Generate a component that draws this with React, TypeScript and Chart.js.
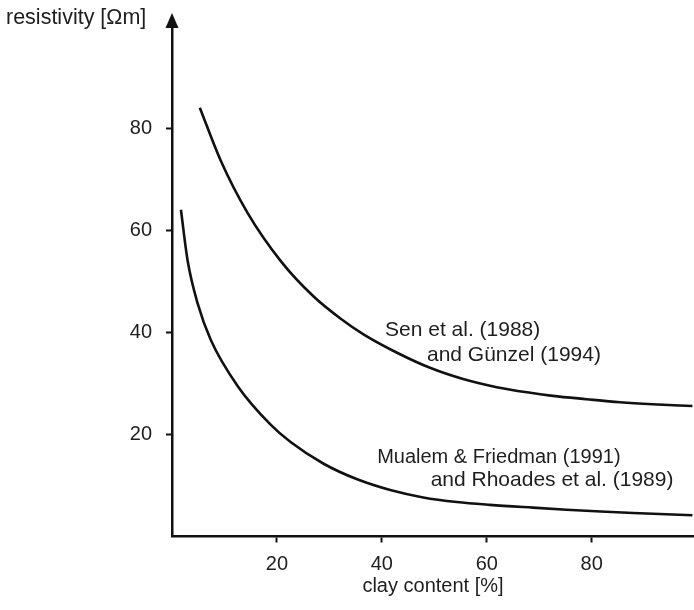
import React, { useEffect, useRef } from 'react';
import { Chart, registerables } from 'chart.js';

Chart.register(...registerables);

// Sen et al. (1988) and Günzel (1994)
const senX = [5.3, 9.3, 14.4, 20.7, 27.0, 32.1, 36.5, 42.9, 49.3, 55.5, 61.9, 68.3, 72.6, 79.0, 85.4, 91.6, 99.2];
const senY = [84.0, 73.6, 63.4, 54.0, 47.0, 42.7, 39.6, 36.0, 33.0, 30.85, 29.25, 28.15, 27.55, 26.9, 26.3, 25.9, 25.55];

// Mualem & Friedman (1991) and Rhoades et al. (1989)
const mualemX = [1.7, 3.0, 4.9, 7.4, 12.5, 18.8, 22.6, 28.9, 35.3, 41.6, 47.9, 54.3, 60.6, 68.8, 75.2, 81.7, 87.9, 99.2];
const mualemY = [64.0, 53.9, 45.6, 38.5, 29.5, 21.9, 18.5, 14.25, 11.2, 9.1, 7.65, 6.75, 6.2, 5.65, 5.25, 4.9, 4.6, 4.15];

const xTicks = [20, 40, 60, 80];
const yTicks = [20, 40, 60, 80];

const xTitle = 'clay content [%]';
const yTitle = 'resistivity [Ωm]';

const noteText = ['Sen et al. (1988)', 'and Günzel (1994)', 'Mualem & Friedman (1991)', 'and Rhoades et al. (1989)'];
const noteX = [40.6, 48.6, 39.1, 49.3];
const noteY = [40.4, 35.6, 15.4, 11.0];
const noteSize = [21, 21, 20, 21];

const FONT = '"Liberation Sans", Arial, Helvetica, sans-serif';
const TEXT = '#1e1e1e';
const INK = '#111';

const overlay = {
  id: 'overlay',
  afterDraw(chart: any) {
    const { ctx, scales, chartArea } = chart;
    const xs = scales.x;
    const ys = scales.y;
    ctx.save();
    ctx.fillStyle = TEXT;
    ctx.textBaseline = 'middle';
    ctx.textAlign = 'left';
    noteText.forEach((t, i) => {
      ctx.font = `${noteSize[i]}px ${FONT}`;
      ctx.fillText(t, xs.getPixelForValue(noteX[i]), ys.getPixelForValue(noteY[i]));
    });
    ctx.font = `21.5px ${FONT}`;
    ctx.fillText(yTitle, 6, 18);
    const ax = chartArea.left;
    ctx.fillStyle = INK;
    ctx.beginPath();
    ctx.moveTo(ax, 13);
    ctx.lineTo(ax - 6.5, 28);
    ctx.lineTo(ax + 6.5, 28);
    ctx.closePath();
    ctx.fill();
    ctx.restore();
  },
};

export default function App() {
  const ref = useRef<HTMLCanvasElement | null>(null);

  useEffect(() => {
    if (!ref.current) return;
    const chart = new Chart(ref.current, {
      type: 'line',
      data: {
        datasets: [
          {
            label: 'Sen et al. (1988) and Günzel (1994)',
            data: senX.map((x, i) => ({ x, y: senY[i] })),
            borderColor: INK,
            borderWidth: 2.6,
            pointRadius: 0,
            fill: false,
            cubicInterpolationMode: 'monotone',
          },
          {
            label: 'Mualem & Friedman (1991) and Rhoades et al. (1989)',
            data: mualemX.map((x, i) => ({ x, y: mualemY[i] })),
            borderColor: INK,
            borderWidth: 2.6,
            pointRadius: 0,
            fill: false,
            cubicInterpolationMode: 'monotone',
          },
        ],
      },
      options: {
        animation: false,
        responsive: false,
        layout: { padding: { top: 17, left: 0, right: 0, bottom: 0 } },
        plugins: { legend: { display: false }, tooltip: { enabled: false } },
        scales: {
          x: {
            type: 'linear',
            min: 0,
            max: 99.5,
            afterBuildTicks: (s: any) => {
              s.ticks = xTicks.map((v) => ({ value: v }));
            },
            afterFit: (s: any) => {
              s.height = 73.5;
            },
            grid: { display: true, drawOnChartArea: false, drawTicks: true, tickLength: 6, tickWidth: 2, tickColor: INK },
            border: { display: true, color: INK, width: 2.5 },
            ticks: { color: TEXT, font: { size: 20, family: FONT }, padding: 10, maxRotation: 0, autoSkip: false },
            title: { display: true, text: xTitle, color: TEXT, font: { size: 20, family: FONT }, padding: { top: 0, bottom: 12 } },
          },
          y: {
            type: 'linear',
            min: 0,
            max: 100,
            afterBuildTicks: (s: any) => {
              s.ticks = yTicks.map((v) => ({ value: v }));
            },
            afterFit: (s: any) => {
              s.width = 172;
            },
            grid: { display: true, drawOnChartArea: false, drawTicks: true, tickLength: 6, tickWidth: 2, tickColor: INK },
            border: { display: true, color: INK, width: 2.5 },
            ticks: { color: TEXT, font: { size: 20, family: FONT }, padding: 14, autoSkip: false },
          },
        },
      },
      plugins: [overlay],
    } as any);
    return () => chart.destroy();
  }, []);

  return (
    <div style={{ position: 'fixed', left: 0, top: 0, width: 694, height: 610, background: '#fff', overflow: 'hidden' }}>
      <canvas ref={ref} width={694} height={610} style={{ display: 'block', width: 694, height: 610 }} />
    </div>
  );
}
